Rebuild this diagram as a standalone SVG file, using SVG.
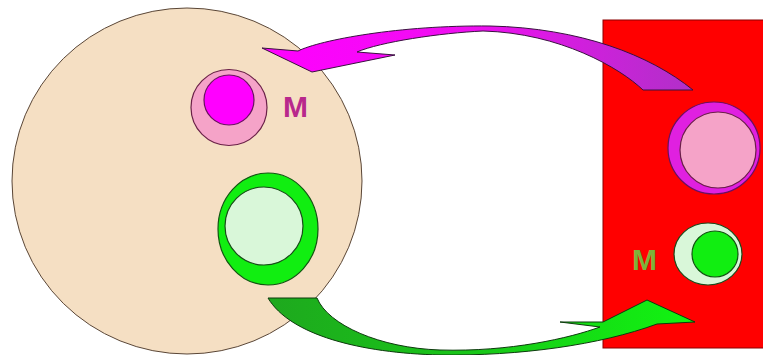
<svg xmlns="http://www.w3.org/2000/svg" width="763" height="355" viewBox="0 0 763 355">
<defs>
<style>
.cell{fill:#F5DFC3;stroke:#5a4636;stroke-width:1}
.pink{fill:#F5A3C8;stroke:#6a2048;stroke-width:1.2}
.mag{fill:#FF00FF;stroke:#6a1060;stroke-width:1.2}
.grn{fill:#11EE11;stroke:#115511;stroke-width:1.2}
.pale{fill:#D9F7D9;stroke:#1a4a1a;stroke-width:1.2}
.lbl{font-family:"Liberation Sans",Arial,sans-serif;font-weight:bold;font-size:30px}
</style>
<linearGradient id="gm" x1="262" y1="0" x2="693" y2="0" gradientUnits="userSpaceOnUse">
<stop offset="0" stop-color="#FF00FF"/>
<stop offset="0.5" stop-color="#EE10F0"/>
<stop offset="1" stop-color="#B030C8"/>
</linearGradient>
<linearGradient id="gg" x1="267" y1="0" x2="695" y2="0" gradientUnits="userSpaceOnUse">
<stop offset="0" stop-color="#1EA81E"/>
<stop offset="0.5" stop-color="#18C818"/>
<stop offset="1" stop-color="#11F511"/>
</linearGradient>
</defs>
<rect width="763" height="355" fill="#FFFFFF"/>
<g id="red-cell"><rect x="603" y="20" width="165" height="328" fill="#FF0000" stroke="#8a0000" stroke-width="1"/></g>
<g id="big-cell"><ellipse class="cell" cx="187" cy="181" rx="175" ry="173"/></g>
<g id="pink-body"><circle class="pink" cx="229" cy="107.5" r="38"/><circle class="mag" cx="229" cy="100" r="25"/></g>
<g id="label-m-left"><text class="lbl" x="283" y="117" fill="#B8288C">M</text></g>
<g id="green-body"><ellipse class="grn" cx="268" cy="229" rx="50" ry="56"/><circle class="pale" cx="264" cy="226" r="39"/></g>
<g id="pink-body-right"><circle cx="714" cy="148" r="46" fill="#E020E0" stroke="#6a1060" stroke-width="1.2"/><circle class="pink" cx="718" cy="150" r="38"/></g>
<g id="green-body-right"><ellipse class="pale" cx="708" cy="254" rx="34" ry="31" stroke="#6a1010"/><circle class="grn" cx="715" cy="254" r="23"/></g>
<g id="label-m-right"><text class="lbl" x="632" y="270" fill="#7DB23A">M</text></g>
<g id="connectors">
<path fill="url(#gm)" stroke="#3a1040" stroke-width="1" d="M262,48 L298,51 C320,40 400,25 490,26 C580,28 650,55 693,90 L643,90 C620,68 560,33 483,31 C440,33 380,42 357,52 L395,55 L312,72 Z"/>
<path fill="url(#gg)" stroke="#0d3a0d" stroke-width="1" d="M268,298 L317,298 C328,325 380,348 440,350 C510,352 570,338 600,327 L560,322 L603,322 L647,300 L695,322 L657,324 C600,345 520,356 440,355 C360,353 290,335 268,298 Z"/>
</g>
</svg>
